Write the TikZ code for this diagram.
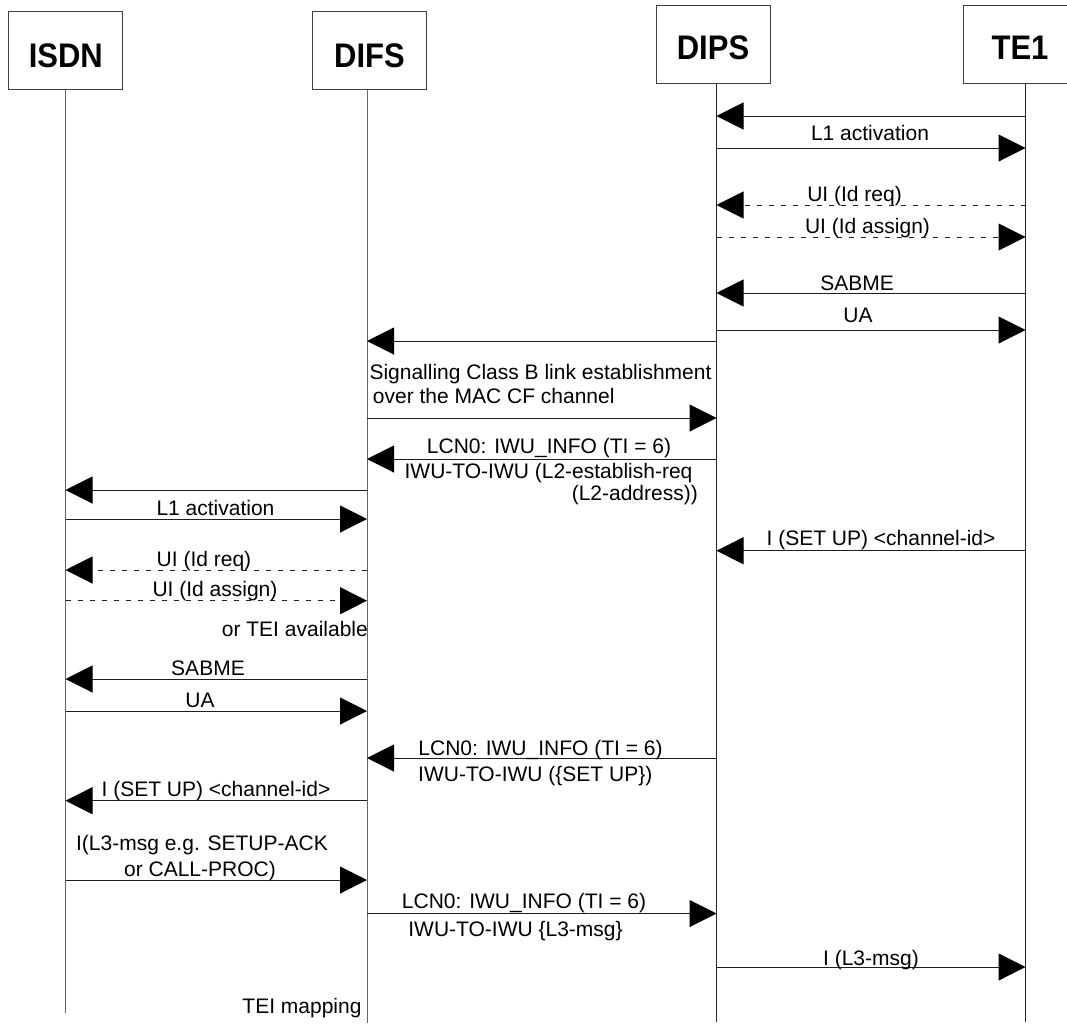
\documentclass[tikz,border=0pt]{standalone}
\usepackage{fontspec}
\setmainfont{Liberation Sans}
\usetikzlibrary{arrows.meta}
\begin{document}
\begin{tikzpicture}[x=1pt,y=-1pt,
  hdr/.style={draw=black!75, line width=1pt, minimum width=114pt, minimum height=78pt,
    inner sep=0pt, text depth=0pt, font=\fontsize{31}{31}\selectfont\bfseries},
  life/.style={draw=black!60, line width=1pt},
  lifeR/.style={draw=black!85, line width=1pt},
  msg/.style={draw=black!88, line width=1pt, -{Triangle[length=27pt,width=27pt,color=black,fill=black]}},
  dmsg/.style={msg, dash pattern=on 5pt off 7pt},
  lbl/.style={inner sep=0pt, anchor=base, font=\fontsize{21}{26}\selectfont}]
\useasboundingbox (0,0) rectangle (1067,1026);
\begin{scope}
\clip (0,0) rectangle (1067,1026);
% header boxes
\node[hdr, text height=34.4pt] (isdn) at (65.8,50.5) {\scalebox{1}[1.1]{ISDN}};
\node[hdr, text height=34.4pt] (difs) at (369.5,50.5) {\scalebox{1}[1.1]{DIFS}};
\node[hdr, text height=29pt] (dips) at (713,44.8) {\scalebox{1}[1.1]{DIPS}};
\node[hdr, text height=29pt] (te1) at (1020,44.8) {\scalebox{1}[1.1]{TE1}};
\end{scope}
% lifeline coordinates
\coordinate (lI) at (65.5,89.5);
\coordinate (lF) at (367,89.5);
\coordinate (lP) at (716.5,83.6);
\coordinate (lT) at (1025.5,83.6);
\coordinate (eI) at (65.5,1013);
\coordinate (eF) at (367,1023);
\coordinate (eP) at (716.5,1022);
\coordinate (eT) at (1025.5,1022);
\draw[life] (lI) -- (eI);
\draw[life] (lF) -- (eF);
\draw[lifeR] (lP) -- (eP);
\draw[lifeR] (lT) -- (eT);
% messages
\draw[msg]  (lT |- 0,116) -- (lP |- 0,116);
\draw[msg]  (lP |- 0,148) -- (lT |- 0,148);
\draw[dmsg] (lT |- 0,205) -- (lP |- 0,205);
\draw[dmsg] (lP |- 0,237) -- (lT |- 0,237);
\draw[msg]  (lT |- 0,293) -- (lP |- 0,293);
\draw[msg]  (lP |- 0,330) -- (lT |- 0,330);
\draw[msg]  (lP |- 0,341) -- (lF |- 0,341);
\draw[msg]  (lF |- 0,418) -- (lP |- 0,418);
\draw[msg]  (lP |- 0,459) -- (lF |- 0,459);
\draw[msg]  (lF |- 0,490) -- (lI |- 0,490);
\draw[msg]  (lI |- 0,519) -- (lF |- 0,519);
\draw[msg]  (lT |- 0,550.7) -- (lP |- 0,550.7);
\draw[dmsg] (lF |- 0,570) -- (lI |- 0,570);
\draw[dmsg] (lI |- 0,600.7) -- (lF |- 0,600.7);
\draw[msg]  (lF |- 0,679) -- (lI |- 0,679);
\draw[msg]  (lI |- 0,711) -- (lF |- 0,711);
\draw[msg]  (lP |- 0,758) -- (lF |- 0,758);
\draw[msg]  (lF |- 0,800.7) -- (lI |- 0,800.7);
\draw[msg]  (lI |- 0,880) -- (lF |- 0,880);
\draw[msg]  (lF |- 0,913.5) -- (lP |- 0,913.5);
\draw[msg]  (lP |- 0,967) -- (lT |- 0,967);
% labels
\node[lbl] (t1) at (870,140) {L1 activation};
\node[lbl] (t2) at (854.5,201) {UI (Id req)};
\node[lbl] (t3) at (867.5,233) {UI (Id assign)};
\node[lbl] (t4) at (857,290) {SABME};
\node[lbl] (t5) at (858,322) {UA};
\node[lbl, anchor=base west] (t6) at (369.3,379) {Signalling Class B link establishment};
\node[lbl, anchor=base west] (t7) at (372.7,403.3) {over the MAC CF channel};
\node[lbl] (t8) at (549,453.3) {LCN0: IWU\_INFO (TI = 6)};
\node[lbl] (t9) at (548.5,478.3) {IWU-TO-IWU (L2-establish-req};
\node[lbl, anchor=base east] (t10) at (698,500) {(L2-address))};
\node[lbl] (t11) at (215.5,515.7) {L1 activation};
\node[lbl] (t12) at (881,545) {I (SET UP) <channel-id>};
\node[lbl] (t13) at (204,566.7) {UI (Id req)};
\node[lbl] (t14) at (215,596) {UI (Id assign)};
\node[lbl, anchor=base east] (t15) at (368,636.7) {or TEI available};
\node[lbl] (t16) at (208,675) {SABME};
\node[lbl] (t17) at (200,707) {UA};
\node[lbl] (t18) at (540.5,755) {LCN0: IWU\_INFO (TI = 6)};
\node[lbl, anchor=base west] (t19) at (418,781.7) {IWU-TO-IWU (\{SET UP\})};
\node[lbl] (t20) at (216,796.7) {I (SET UP) <channel-id>};
\node[lbl] (t21) at (202,850) {I(L3-msg e.g. SETUP-ACK};
\node[lbl] (t22) at (200,876) {or CALL-PROC)};
\node[lbl] (t23) at (524,908.3) {LCN0: IWU\_INFO (TI = 6)};
\node[lbl] (t24) at (515.5,936) {IWU-TO-IWU \{L3-msg\}};
\node[lbl] (t25) at (871,965) {I (L3-msg)};
\node[lbl, anchor=base east] (t26) at (361.7,1013) {TEI mapping};
\end{tikzpicture}
\end{document}
